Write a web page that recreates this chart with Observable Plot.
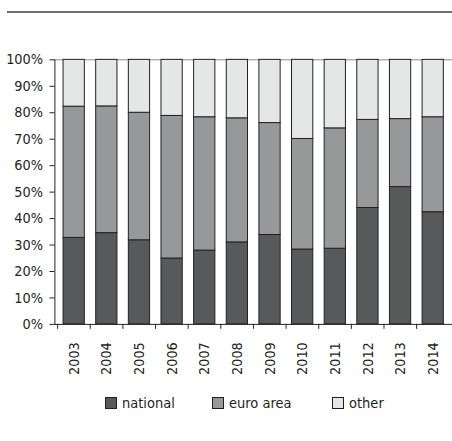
<!DOCTYPE html>
<html><head><meta charset="utf-8">
<script src="https://cdn.jsdelivr.net/npm/d3@7"></script>
<script src="https://cdn.jsdelivr.net/npm/@observablehq/plot@0.6"></script>
<style>
body{margin:0;width:452px;height:441px;overflow:hidden;position:relative;background:#fff;font-family:"DejaVu Sans",sans-serif;font-stretch:condensed;}
#topline{position:absolute;left:7px;top:11px;width:445px;height:2px;background:#6d6e70;}
#chart{position:absolute;left:0;top:0;}
#legend{position:absolute;top:394px;left:0;width:452px;height:18px;font-size:14.5px;color:#231f20;}
.item{position:absolute;top:0;display:flex;align-items:center;height:18px;}
.sw{width:10px;height:10px;border:1px solid #231f20;margin-right:5px;}
svg text{font-stretch:condensed;}
</style></head>
<body>
<div id="topline"></div>
<div id="chart"></div>
<div id="legend"></div>
<script>
const years = ["2003","2004","2005","2006","2007","2008","2009","2010","2011","2012","2013","2014"];
const national = [32.7,34.5,31.8,24.9,27.9,31.0,33.8,28.3,28.6,44.0,51.9,42.4];
const euroArea = [49.6,47.9,48.2,53.9,50.4,46.9,42.3,41.8,45.5,33.3,25.7,35.9];
const other = [17.7,17.6,20.0,21.2,21.7,22.1,23.9,29.9,25.9,22.7,22.4,21.7];
const seriesNames = ["national","euro area","other"];
const seriesColors = ["#58595b","#97989a","#e5e6e6"];
const yTicks = [0,10,20,30,40,50,60,70,80,90,100];

const seriesValues = [national, euroArea, other];
const data = [];
years.forEach((yr, i) => {
  seriesNames.forEach((s, j) => data.push({year: yr, series: s, value: seriesValues[j][i]}));
});

const W = 457, ML = 55;
const step = (W - ML) / years.length;
const font = '"DejaVu Sans",sans-serif';

const chart = Plot.plot({
  width: W,
  height: 385,
  marginTop: 60,
  marginBottom: 57.5,
  marginLeft: ML,
  marginRight: 0,
  style: {fontFamily: font, fontSize: "14.5px", color: "#231f20", background: "transparent"},
  x: {domain: years, padding: 0, label: null},
  y: {domain: [0, 100], label: null},
  color: {domain: seriesNames, range: seriesColors},
  marks: [
    Plot.ruleY([100], {stroke: "#8c8d8f", strokeWidth: 1}),
    Plot.barY(data, {x: "year", y: "value", fill: "series", stroke: "#231f20", strokeWidth: 1, insetLeft: 5.75, insetRight: 5.75}),
    Plot.ruleY([0], {stroke: "#231f20", strokeWidth: 1}),
    Plot.frame({anchor: "left", stroke: "#231f20"}),
    Plot.axisY({ticks: yTicks, tickFormat: d => d + "%", tickSize: 5, tickPadding: 7, stroke: "#231f20", fontSize: 14.5, label: null}),
    Plot.axisX({tickSize: 5, tickFormat: () => "", dx: -step / 2, stroke: "#231f20", label: null}),
    Plot.axisX({tickSize: 0, tickRotate: -90, tickPadding: 18, fontSize: 14.5, label: null})
  ]
});
document.getElementById("chart").appendChild(chart);

const legend = document.getElementById("legend");
const legendX = [105, 212, 332];
seriesNames.forEach((s, i) => {
  const it = document.createElement("div");
  it.className = "item";
  it.style.left = legendX[i] + "px";
  const sw = document.createElement("div");
  sw.className = "sw";
  sw.style.background = seriesColors[i];
  const t = document.createElement("span");
  t.textContent = s;
  it.appendChild(sw); it.appendChild(t);
  legend.appendChild(it);
});
</script>
</body></html>
